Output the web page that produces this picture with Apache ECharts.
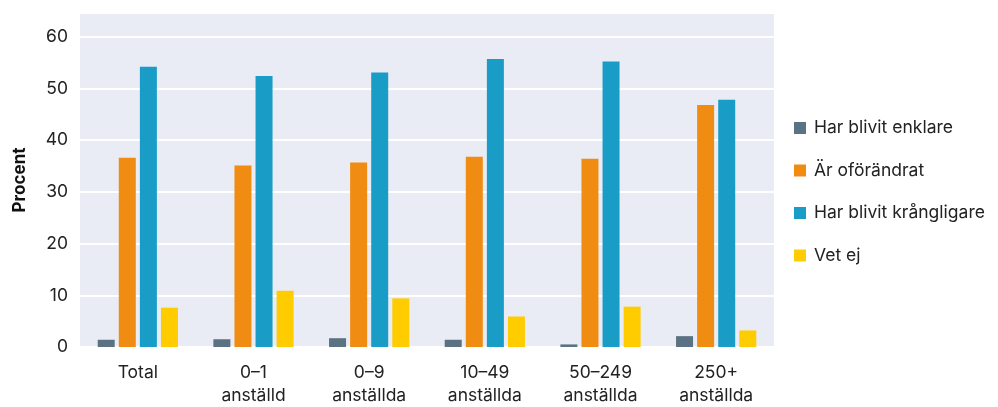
<!DOCTYPE html>
<html><head><meta charset="utf-8">
<script src="https://cdn.jsdelivr.net/npm/echarts@6/dist/echarts.min.js"></script>
<style>html,body{margin:0;padding:0;background:#fff}#c{width:998px;height:407px}</style>
</head><body><div id="c"></div>
<script>
const categories = ['Total', '0–1\nanställd', '0–9\nanställda', '10–49\nanställda', '50–249\nanställda', '250+\nanställda'];
const seriesNames = ['Har blivit enklare', 'Är oförändrat', 'Har blivit krångligare', 'Vet ej'];
const enklare = [1.4, 1.5, 1.7, 1.4, 0.5, 2.1];
const oforandrat = [36.6, 35.1, 35.7, 36.8, 36.4, 46.8];
const krangligare = [54.2, 52.4, 53.1, 55.7, 55.2, 47.8];
const vetEj = [7.6, 10.9, 9.4, 5.9, 7.8, 3.2];
const colors = ['#5B7282', '#F08C12', '#199CC6', '#FFCC00'];
const values = [enklare, oforandrat, krangligare, vetEj];
const FONT = 'Inter';
const chart = echarts.init(document.getElementById('c'));
chart.setOption({
  animation: false,
  textStyle: { fontFamily: FONT },
  grid: { left: 80, right: 224, top: 13, bottom: 56, backgroundColor: '#E9ECF4', show: true, borderWidth: 0 },
  legend: {
    orient: 'vertical', left: 789, top: 114, itemWidth: 12, itemHeight: 12, itemGap: 24.5,
    icon: 'rect', textStyle: { fontSize: 17.5, color: '#222', fontFamily: FONT, padding: [0, 0, 0, 3] },
    data: seriesNames
  },
  xAxis: {
    type: 'category', data: categories,
    axisLine: { show: false }, axisTick: { show: false },
    axisLabel: { fontSize: 17.5, color: '#222', lineHeight: 23, margin: 14, fontFamily: FONT }
  },
  yAxis: {
    type: 'value', min: 0, max: 64.6, interval: 10,
    name: 'Procent', nameLocation: 'middle', nameGap: 52,
    nameTextStyle: { fontSize: 17, fontWeight: 'bold', color: '#111', fontFamily: FONT },
    axisLabel: { fontSize: 17.5, color: '#222', margin: 12, fontFamily: FONT,
      formatter: v => (Math.abs(v % 10) < 1e-9 ? String(v) : '') },
    splitLine: { lineStyle: { color: '#FFFFFF', width: 2 } },
    axisLine: { show: false }, axisTick: { show: false }
  },
  series: seriesNames.map((n, i) => ({
    name: n, type: 'bar', data: values[i], barWidth: 17, barGap: '24%',
    itemStyle: { color: colors[i] }
  }))
});
</script></body></html>
